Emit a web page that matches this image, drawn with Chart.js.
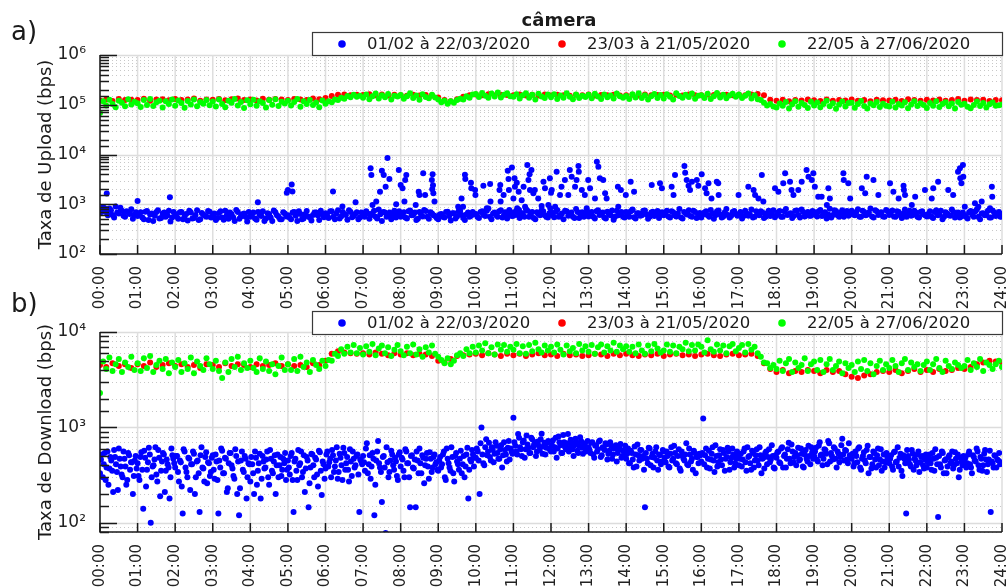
<!DOCTYPE html>
<html>
<head>
<meta charset="utf-8">
<script src="https://cdn.jsdelivr.net/npm/chart.js@4.4.1/dist/chart.umd.min.js"></script>
<style>
  html, body { margin: 0; padding: 0; background: #fff; }
  #wrap { position: relative; width: 1008px; height: 588px; overflow: hidden; }
  canvas { position: absolute; left: 0; }
  #up { top: 0; }
  #down { top: 286px; }
</style>
</head>
<body>
<div id="wrap">
  <canvas id="up" width="1008" height="320"></canvas>
  <canvas id="down" width="1008" height="302"></canvas>
</div>
<script>
// periods (legend) and hour tick labels
const periods = ['01/02 à 22/03/2020', '23/03 à 21/05/2020', '22/05 à 27/06/2020'];
const hourLabels = ['00:00','01:00','02:00','03:00','04:00','05:00','06:00','07:00','08:00','09:00','10:00','11:00',
  '12:00','13:00','14:00','15:00','16:00','17:00','18:00','19:00','20:00','21:00','22:00','23:00','24:00'];

// ---- upload (bps) ----
// green: every 5 min, kbps
const upGreenK = [
  68,118,97,126,104,89,121,110,93,129,101,115,
  107,90,124,99,131,94,112,120,88,117,103,127,
  96,122,108,87,119,101,128,93,114,105,125,98,
  116,92,127,104,89,121,110,131,97,113,86,123,
  102,126,95,118,109,88,124,100,129,94,115,106,
  120,97,113,130,91,117,104,125,99,111,89,122,
  105,118,112,127,124,139,132,150,141,158,145,152,
  138,161,129,149,168,134,155,142,164,127,151,146,
  157,132,148,170,137,153,126,162,143,135,159,140,
  128,112,121,105,117,110,124,132,127,148,139,160,
  165,143,172,151,138,168,147,176,140,159,170,149,
  144,163,133,155,171,139,158,128,166,147,137,160,
  141,162,131,153,138,170,145,129,160,136,152,143,
  158,135,167,146,130,161,142,154,133,169,148,139,
  150,131,163,140,171,136,155,127,148,165,137,157,
  134,162,145,128,170,150,138,159,143,168,132,152,
  156,137,166,131,149,172,140,158,135,153,167,144,
  160,136,151,168,133,155,129,124,110,97,103,92,
  88,106,95,113,84,102,118,91,109,99,86,115,
  97,111,89,104,120,93,107,83,101,116,92,108,
  110,87,103,119,94,84,106,98,114,90,105,96,
  92,115,88,104,97,112,85,101,118,94,107,99,
  86,109,96,117,90,103,112,93,106,84,114,100,
  105,91,85,99,116,94,108,88,102,111,95,98,
  101
];
// red: every 10 min, kbps
const upRedK = [
  122,128,119,131,124,126, 125,132,120,127,129,123, 130,124,127,133,121,128,
  126,131,123,129,134,125, 128,122,132,126,130,127, 124,131,127,125,133,129,
  136,150,158,161,156,159, 157,162,155,160,153,158, 156,151,159,154,157,153,
  140,124,118,129,145,155, 160,156,163,154,159,157, 155,160,153,158,154,161,
  153,159,156,151,158,155, 160,153,157,155,159,154, 156,158,153,161,155,157,
  159,154,158,153,160,156, 155,161,157,154,159,156, 158,155,160,164,156,126,
  120,126,118,124,122,128, 123,119,127,121,125,122, 128,120,124,118,126,123,
  122,126,119,129,124,120, 126,122,128,120,125,130, 121,127,124,126,119,125,
  123
];
// blue: every 5 min on the hour grid, bps
const upBlueA = [
  760,880,690,820,610,900,650,740,560,700,790,620,
  580,690,500,730,620,460,700,520,650,560,740,540,
  640,510,700,580,470,680,530,760,500,620,560,710,
  590,480,670,540,740,510,630,460,700,570,650,450,
  560,680,490,610,720,520,640,460,690,570,500,650,
  600,500,700,460,640,520,730,540,610,680,480,620,
  660,530,720,500,760,570,640,490,700,580,690,540,
  620,720,510,660,560,780,460,680,590,500,740,630,
  560,690,520,750,610,480,700,570,730,510,650,580,
  500,640,540,710,470,660,570,740,530,620,560,700,
  640,530,720,580,820,500,680,560,760,610,520,700,
  590,730,530,660,800,560,700,500,640,760,600,540,
  680,550,770,600,500,720,620,560,800,530,690,610,
  570,700,520,760,620,540,710,600,490,740,650,560,
  700,560,780,520,660,600,750,510,680,580,730,620,
  600,740,540,690,570,800,520,660,760,560,700,610,
  540,680,600,770,510,720,620,570,800,540,700,640,
  630,520,740,590,780,560,680,720,530,660,580,760,
  600,730,560,800,640,530,740,610,780,570,700,590,
  700,570,770,640,520,810,610,730,560,760,640,590,
  740,600,790,560,700,620,820,540,720,650,570,770,
  610,750,560,700,530,780,640,590,740,560,700,620,
  570,720,530,760,620,500,690,600,780,540,680,570,
  600,520,730,560,790,500,660,610,540,750,580,700,
  640
];
// blue: every 5 min, half-step samples, bps
const upBlueB = [
  700,820,600,760,540,680,850,590,720,640,510,690,
  620,540,710,480,650,590,760,530,680,600,450,700,
  560,690,500,640,740,520,610,480,670,590,730,540,
  650,530,720,490,600,680,550,770,510,630,560,700,
  610,520,700,580,460,660,540,750,600,500,690,570,
  540,680,590,720,500,630,570,470,680,600,740,550,
  600,720,560,650,520,700,610,760,550,640,500,680,
  560,650,600,740,520,630,700,560,680,610,540,720,
  660,540,720,600,680,510,620,770,560,690,600,530,
  620,560,700,580,660,520,720,610,480,680,590,640,
  560,700,610,740,560,650,600,720,540,690,630,580,
  700,600,650,560,740,620,530,690,600,720,560,660,
  600,710,560,650,740,590,680,530,700,620,560,730,
  660,560,720,610,680,520,630,750,570,600,700,540,
  600,720,550,660,590,740,620,560,710,640,530,690,
  660,570,720,600,650,540,700,620,580,740,530,670,
  620,720,560,660,600,750,540,690,610,580,730,590,
  700,580,650,620,540,720,600,680,560,740,620,550,
  680,560,720,610,660,580,750,540,700,620,590,730,
  610,720,580,690,620,540,760,600,680,560,730,650,
  620,700,560,740,600,680,570,760,610,690,560,720,
  690,570,720,600,650,560,740,610,680,540,720,600,
  640,560,700,600,740,560,650,590,700,620,540,680,
  560,690,610,720,560,650,600,740,540,680,620,560
];
// blue bursts above the band: hour, bps
const upBlueOutT = [0.18,1.0,1.86,4.2,4.97,5.0,5.1,5.12,6.2,6.45,6.8,7.2,7.22,7.25,7.35,7.45,7.5,7.55,7.6,7.65,7.7,7.88,7.95,8.0,8.05,8.1,8.12,8.15,
  8.4,8.48,8.5,8.6,8.65,8.83,8.84,8.85,8.86,8.87,8.9,9.53,9.62,9.66,9.71,9.72,9.87,9.88,9.98,9.99,10.2,10.29,10.38,10.39,10.63,10.65,10.66,10.74,
  10.85,10.87,10.88,10.89,10.96,11.0,11.03,11.04,11.09,11.1,11.14,11.15,11.22,11.27,11.31,11.37,11.4,11.43,11.44,11.48,11.53,11.57,11.66,11.75,
  11.8,11.84,11.93,11.97,11.98,12.0,12.02,12.11,12.15,12.24,12.28,12.37,12.46,12.5,12.55,12.64,12.68,12.73,12.74,12.82,12.9,12.95,12.99,13.04,
  13.17,13.22,13.26,13.3,13.39,13.44,13.48,13.78,13.79,13.86,13.99,14.12,14.17,14.21,14.68,14.9,14.95,15.21,15.26,15.3,15.55,15.57,15.61,15.66,
  15.7,15.75,15.88,15.92,16.01,16.1,16.14,16.19,16.27,16.41,16.45,16.46,16.99,17.25,17.39,17.43,17.52,17.61,17.65,17.96,18.05,18.18,18.23,18.36,
  18.4,18.45,18.58,18.67,18.8,18.85,18.94,18.98,19.02,19.11,19.2,19.34,19.38,19.42,19.78,19.79,19.91,19.96,20.27,20.36,20.4,20.58,20.71,21.02,
  21.11,21.25,21.38,21.39,21.42,21.6,21.69,21.95,22.13,22.17,22.3,22.57,22.7,22.83,22.88,22.89,22.92,22.96,22.97,23.01,23.28,23.37,23.46,23.68,
  23.73,23.74];
const upBlueOutV = [1650,1160,1380,1100,1700,1930,2500,1800,1800,900,1100,5300,3870,966,1130,1790,4700,3870,2250,8500,3200,1000,4870,2440,2090,1130,3070,3870,
  966,1790,1530,4180,1530,3070,2000,4000,2400,1660,1130,894,1310,894,3900,3200,2700,2090,1930,1530,2350,828,2550,1130,1930,2440,1130,1530,
  4700,3200,1930,766,5500,1310,3320,2250,2700,828,1790,766,1200,2250,894,6150,3070,4000,1930,4870,1660,1930,1310,920,
  2840,2090,966,3320,828,1700,1930,894,4510,1530,2250,3070,1530,4870,3580,2250,3070,5870,4510,1930,1530,828,3070,2090,
  1310,7170,5700,3320,3070,1660,1310,2250,894,1930,1530,2840,766,1790,2440,2630,2090,2250,1530,3870,5870,4300,3070,2350,
  1930,2840,3070,2350,4000,2090,1660,2630,1310,2840,2630,1530,1530,2250,1930,1530,1310,3870,1130,2090,1790,2630,4180,2840,
  1930,1530,1930,2840,4870,3580,3070,4180,2250,1420,1420,966,2090,1310,4180,3070,2630,1310,2090,1660,3580,3070,1530,2630,
  1790,1310,2350,1930,1530,966,1420,1930,1310,2090,2840,1930,1530,4510,5270,3320,2630,6150,3580,894,1050,894,1130,828,
  2250,1420];

// ---- download (bps) ----
// green: every 5 min
const downGreen = [
  2300,4900,4100,5400,3900,4600,5200,3800,4800,4300,5500,4000,
  4700,3900,5300,4200,5600,3800,4500,5000,4100,5200,3700,4800,
  4300,5100,3800,4700,4100,5400,3700,4900,4400,4000,5300,4600,
  4100,5000,3900,3300,4800,3800,5200,4300,5500,4000,4700,4200,
  5000,4200,3800,5300,4100,4900,3900,4600,3600,4400,5400,4000,
  4600,4000,5200,3900,5500,4300,4800,3800,5100,4500,4100,5000,
  4400,5100,5000,5900,5600,6600,5900,7000,6100,7300,6000,6800,
  5800,7100,6200,7500,5700,6700,7200,6000,6900,5600,6500,7300,
  6300,5700,7000,6000,7400,5800,6600,5500,6900,6100,7200,5900,
  5500,5100,4700,5300,4600,5000,5700,6000,5600,6600,6000,7000,
  6100,7200,6400,7600,6000,6900,5800,7400,6500,7300,6200,7000,
  6500,7500,6000,7100,5900,7300,6300,7700,6600,6100,7200,6400,
  7000,6100,7400,6500,5800,7200,6300,6800,6000,7500,6400,7100,
  6200,7300,5900,6900,7400,6100,7100,6400,7700,6200,7200,6600,
  7100,6200,7000,6000,7400,6400,5900,7200,6300,7500,6700,6100,
  6400,7400,6200,7200,6000,7000,6600,7700,6300,7300,6400,7400,
  7000,6100,8200,6600,6200,7400,6400,7200,6000,7100,7500,6300,
  6800,7300,6100,7500,6500,7000,6000,5500,4800,4700,4200,4500,
  4100,5000,3900,4700,5200,3800,4800,4200,4500,5300,3900,4600,
  4900,4000,5100,3800,4600,5200,4000,4400,4900,3700,4700,4200,
  4500,3800,4900,4100,5100,3900,4700,3600,4400,5000,4000,4600,
  4200,5100,4400,3800,4700,5200,4000,4800,4300,4600,3900,4500,
  4900,4000,4600,5200,4200,3800,5000,4400,4100,4800,4500,4200,
  4400,5100,4000,4700,4300,5200,3900,4800,4500,4100,4600,5000,
  4300
];
// red: every 10 min
const downRed = [
  4500,4300,4700,4400,4600,4200, 4600,4400,4800,4300,4500,4700, 4400,4600,4300,4500,4200,4600,
  4500,4300,4700,4400,4600,4500, 4300,4600,4400,4500,4700,4400, 4600,4400,4500,4300,4700,4500,
  5000,5900,6300,6100,6000,5900, 6000,5800,6100,5900,5700,6000, 5800,6000,5700,5900,5800,5600,
  5000,4800,5200,5600,5700,5800, 5900,5700,6000,5800,5600,5900, 5700,5900,5600,5800,6000,5700,
  5800,5600,5900,5700,5800,5600, 5700,5900,5800,5600,5900,5700, 5900,5700,5600,5800,5700,5900,
  5600,5800,5900,5700,5800,5600, 5800,5900,5700,5600,5800,5900, 5700,5800,5900,5600,4700,4100,
  3800,4000,3700,3900,3800,4000, 3900,3700,4000,3800,3900,3600, 3400,3300,3500,3600,3800,3900,
  3800,4000,3700,3900,4100,3800, 4000,3800,4100,3900,4000,4200, 4100,4300,4600,4800,5000,4900,
  4800
];
// blue: every 3 min on the hour grid
const downBlueA = [
  330,520,410,280,560,370,450,210,490,340,600,390,300,470,250,540,360,430,310,500,
  420,280,550,140,480,360,610,100,390,460,320,580,190,440,520,350,410,180,600,470,
  380,500,270,430,125,560,340,480,220,410,530,300,450,130,620,370,490,260,420,340,
  510,290,440,125,380,570,330,470,230,540,400,310,590,200,120,450,360,500,180,420,
  270,410,200,480,350,530,290,440,380,560,250,470,330,510,400,300,490,360,420,280,
  450,320,540,130,470,280,400,560,340,210,490,145,380,520,300,460,240,550,195,410,
  370,560,430,300,510,390,620,340,480,280,540,420,360,590,310,470,400,520,130,440,
  500,350,680,410,290,540,120,450,720,380,165,500,78,430,340,570,400,480,310,520,
  390,460,300,560,420,145,510,370,145,450,600,330,480,400,540,290,470,380,520,430,
  350,490,410,560,280,470,380,620,330,500,440,360,570,410,300,520,180,460,580,390,
  480,560,200,1000,420,620,510,690,450,580,530,640,470,590,380,700,520,610,460,560,
  1260,640,520,780,590,700,480,820,610,540,750,660,500,710,580,860,630,520,690,600,
  560,730,620,480,800,650,540,700,590,850,610,680,500,760,570,640,720,530,660,600,
  620,540,700,480,650,590,730,510,600,680,460,570,640,520,610,440,580,670,500,550,
  470,600,420,540,380,520,660,450,580,500,145,470,610,400,530,480,620,360,510,440,
  560,430,500,380,620,470,540,410,590,350,500,450,680,400,520,470,570,330,490,530,
  440,1240,510,380,570,460,620,340,500,430,590,400,540,470,610,360,480,520,420,560,
  400,530,460,600,350,490,420,570,380,510,450,620,330,480,540,410,590,460,500,370,
  480,560,420,620,500,380,590,470,660,430,540,510,450,600,390,520,470,640,410,550,
  500,610,440,700,520,470,580,410,680,540,460,600,380,530,490,760,450,570,420,510,
  470,390,560,430,620,360,500,450,580,330,490,410,540,380,600,460,350,520,430,480,
  420,510,360,560,440,390,530,310,470,125,500,410,580,360,450,520,340,490,400,460,
  380,470,420,540,350,480,115,410,560,330,460,390,510,440,370,550,420,300,480,400,
  450,380,520,410,330,490,440,560,360,470,400,580,340,460,130,420,510,380,450,410,
  430
];
// blue: every 3 min, half-step samples
const downBlueB = [
  460,300,540,380,250,490,350,580,410,220,470,320,560,390,280,510,430,200,450,370,
  310,490,360,570,240,430,520,300,400,620,270,480,350,540,210,460,380,300,510,420,
  500,340,450,240,590,380,300,470,410,560,200,440,330,510,380,270,550,430,310,480,
  360,520,280,450,600,330,480,210,420,540,370,290,500,440,230,560,340,470,300,410,
  490,330,560,250,420,180,500,370,460,300,580,350,440,200,520,400,310,470,540,360,
  380,500,280,440,350,580,420,300,510,370,450,260,530,400,480,320,570,350,440,290,
  520,390,470,580,340,450,290,530,400,610,360,490,270,440,560,380,500,320,460,410,
  430,600,330,510,390,470,250,560,420,340,490,380,620,300,450,520,360,440,280,550,
  480,350,590,420,300,500,380,460,560,330,420,510,260,470,390,550,340,490,410,360,
  450,380,520,300,600,420,350,490,270,540,410,470,330,500,390,610,360,440,520,480,
  600,450,680,520,400,750,560,490,620,430,700,540,470,650,510,580,440,720,600,530,
  700,560,850,620,500,730,590,660,540,780,620,700,560,640,750,530,690,610,720,580,
  650,560,780,600,700,540,830,620,680,560,740,590,650,700,540,790,610,680,560,720,
  580,690,520,640,560,710,490,620,580,660,530,700,470,600,650,540,620,480,570,640,
  530,420,570,460,630,390,510,580,470,360,540,420,600,490,380,560,450,520,410,580,
  480,560,390,530,450,640,420,500,370,560,470,520,410,600,440,360,540,490,420,510,
  540,410,600,470,370,530,450,650,390,510,460,580,350,490,560,430,600,380,470,520,
  470,390,560,430,620,500,360,540,450,590,400,510,470,370,560,490,430,650,380,510,
  550,430,600,380,520,470,690,420,560,490,400,610,460,530,380,580,440,500,620,470,
  560,460,640,510,400,590,530,720,440,500,620,470,560,430,650,520,580,460,680,490,
  530,420,500,600,380,470,550,420,640,490,370,560,460,510,400,590,440,380,540,470,
  470,390,550,430,620,480,350,510,420,580,460,390,530,470,400,560,430,500,370,520,
  430,520,360,470,590,410,500,380,540,450,330,490,420,560,400,470,520,360,440,500,
  480,420,560,380,510,450,600,400,490,350,530,460,410,570,440,380,500,460,540,420
];

const colors = ['#0000ff', '#ff0000', '#00ff00'];
const FONT = 'DejaVu Sans';
const SUP = ['⁰','¹','²','³','⁴','⁵','⁶','⁷','⁸','⁹'];

Chart.defaults.font.family = FONT;
Chart.defaults.color = '#222';

// values sampled every stepMin minutes, first sample at offsetMin
function series(values, stepMin, unit = 1, offsetMin = 0) {
  return values.map((v, i) => ({ x: (offsetMin + i * stepMin) / 60, y: v * unit }));
}
function pairs(ts, vs) {
  return ts.map((t, i) => ({ x: t, y: vs[i] }));
}
function isDecade(v) {
  const e = Math.log10(v);
  return Math.abs(e - Math.round(e)) < 1e-9;
}

const decor = {
  id: 'decor',
  beforeDatasetsDraw(chart) {
    const { ctx, chartArea: a, scales: { x, y } } = chart;
    ctx.save();
    y.ticks.forEach(t => {
      const py = Math.round(y.getPixelForValue(t.value)) + 0.5;
      const major = isDecade(t.value);
      ctx.strokeStyle = major ? '#dcdcdc' : '#c8c8c8';
      ctx.lineWidth = major ? 1.5 : 1;
      ctx.setLineDash(major ? [] : [1, 3]);
      ctx.beginPath(); ctx.moveTo(a.left, py); ctx.lineTo(a.right, py); ctx.stroke();
    });
    ctx.setLineDash([]);
    ctx.strokeStyle = '#dedede';
    ctx.lineWidth = 1.5;
    x.ticks.forEach(t => {
      const px = x.getPixelForValue(t.value);
      ctx.beginPath(); ctx.moveTo(px, a.top); ctx.lineTo(px, a.bottom); ctx.stroke();
    });
    ctx.restore();
  },
  afterDatasetsDraw(chart) {
    const { ctx, chartArea: a, scales: { x, y } } = chart;
    ctx.save();
    ctx.strokeStyle = '#1a1a1a';
    ctx.lineWidth = 1.5;
    ctx.beginPath();
    ctx.moveTo(a.left, a.top); ctx.lineTo(a.left, a.bottom); ctx.lineTo(a.right, a.bottom);
    ctx.stroke();
    y.ticks.forEach(t => {
      const py = Math.round(y.getPixelForValue(t.value)) + 0.5;
      const len = isDecade(t.value) ? 17 : 9;
      ctx.beginPath(); ctx.moveTo(a.left, py); ctx.lineTo(a.left + len, py); ctx.stroke();
    });
    x.ticks.forEach(t => {
      const px = x.getPixelForValue(t.value);
      ctx.beginPath(); ctx.moveTo(px, a.bottom); ctx.lineTo(px, a.bottom - 9); ctx.stroke();
    });
    ctx.restore();
  },
  afterDraw(chart, args, o) {
    const { ctx, chartArea: a } = chart;
    ctx.save();
    ctx.fillStyle = '#1a1a1a';
    // panel letter
    ctx.font = '26px ' + FONT;
    ctx.textAlign = 'left';
    ctx.textBaseline = 'middle';
    ctx.fillText(o.letter, 11, o.letterY);
    // title
    if (o.title) {
      ctx.font = 'bold 18px ' + FONT;
      ctx.textAlign = 'center';
      ctx.fillText(o.title, 559, 21);
    }
    // y axis title
    ctx.save();
    ctx.translate(46, (a.top + a.bottom) / 2);
    ctx.rotate(-Math.PI / 2);
    ctx.font = '18px ' + FONT;
    ctx.textAlign = 'center';
    ctx.fillText(o.yTitle, 0, 0);
    ctx.restore();
    // legend box
    const lx = 312, lw = 690, lh = 23, ly = o.legendTop;
    ctx.fillStyle = '#fff';
    ctx.fillRect(lx, ly, lw, lh);
    ctx.strokeStyle = '#3a3a3a';
    ctx.lineWidth = 1.2;
    ctx.strokeRect(lx + 0.5, ly + 0.5, lw, lh);
    ctx.font = '16.5px ' + FONT;
    ctx.textAlign = 'left';
    periods.forEach((p, i) => {
      const cx = 342 + i * 220;
      ctx.fillStyle = colors[i];
      ctx.beginPath(); ctx.arc(cx, ly + lh / 2 + 0.5, 3.8, 0, Math.PI * 2); ctx.fill();
      ctx.fillStyle = '#1a1a1a';
      ctx.fillText(p, cx + 25, ly + lh / 2 + 1);
    });
    ctx.restore();
  }
};

function panel(id, data, o) {
  const ds = data.map((d, i) => ({
    label: periods[i],
    data: d,
    backgroundColor: colors[i],
    borderWidth: 0,
    pointRadius: 3,
    pointHoverRadius: 3,
    order: 2 - i
  }));
  return new Chart(document.getElementById(id), {
    type: 'scatter',
    data: { datasets: ds },
    plugins: [decor],
    options: {
      responsive: false,
      animation: false,
      devicePixelRatio: 1,
      events: [],
      layout: { padding: { top: o.padTop, right: 6, left: 0, bottom: 0 } },
      plugins: {
        legend: { display: false },
        tooltip: { enabled: false },
        decor: o
      },
      scales: {
        x: {
          type: 'linear', min: 0, max: 24,
          grid: { display: false }, border: { display: false },
          ticks: {
            stepSize: 1, autoSkip: false, maxRotation: 90, minRotation: 90, padding: 4,
            font: { size: 15 }, color: '#222',
            callback: v => hourLabels[v]
          },
          afterFit(s) { s.height = o.xHeight; s.paddingRight = 0; s.paddingLeft = 0; }
        },
        y: {
          type: 'logarithmic', min: o.yMin, max: o.yMax,
          grid: { display: false }, border: { display: false },
          ticks: {
            autoSkip: false, padding: 6, font: { size: 17 }, color: '#222',
            callback: v => isDecade(v) ? '10' + SUP[Math.round(Math.log10(v))] : ''
          },
          afterFit(s) { s.width = 100; }
        }
      }
    }
  });
}

panel('up', [
  series(upBlueA, 5).concat(series(upBlueB, 5, 1, 2.5), pairs(upBlueOutT, upBlueOutV)),
  series(upRedK, 10, 1000),
  series(upGreenK, 5, 1000)
], { yMin: 1e2, yMax: 1e6, padTop: 55, xHeight: 66, letter: 'a)', letterY: 33, title: 'câmera',
     yTitle: 'Taxa de Upload (bps)', legendTop: 32 });

panel('down', [
  series(downBlueA, 3).concat(series(downBlueB, 3, 1, 1.5)),
  series(downRed, 10),
  series(downGreen, 5)
], { yMin: 80, yMax: 1e4, padTop: 46, xHeight: 56, letter: 'b)', letterY: 19, title: null,
     yTitle: 'Taxa de Download (bps)', legendTop: 25 });
</script>
</body>
</html>
